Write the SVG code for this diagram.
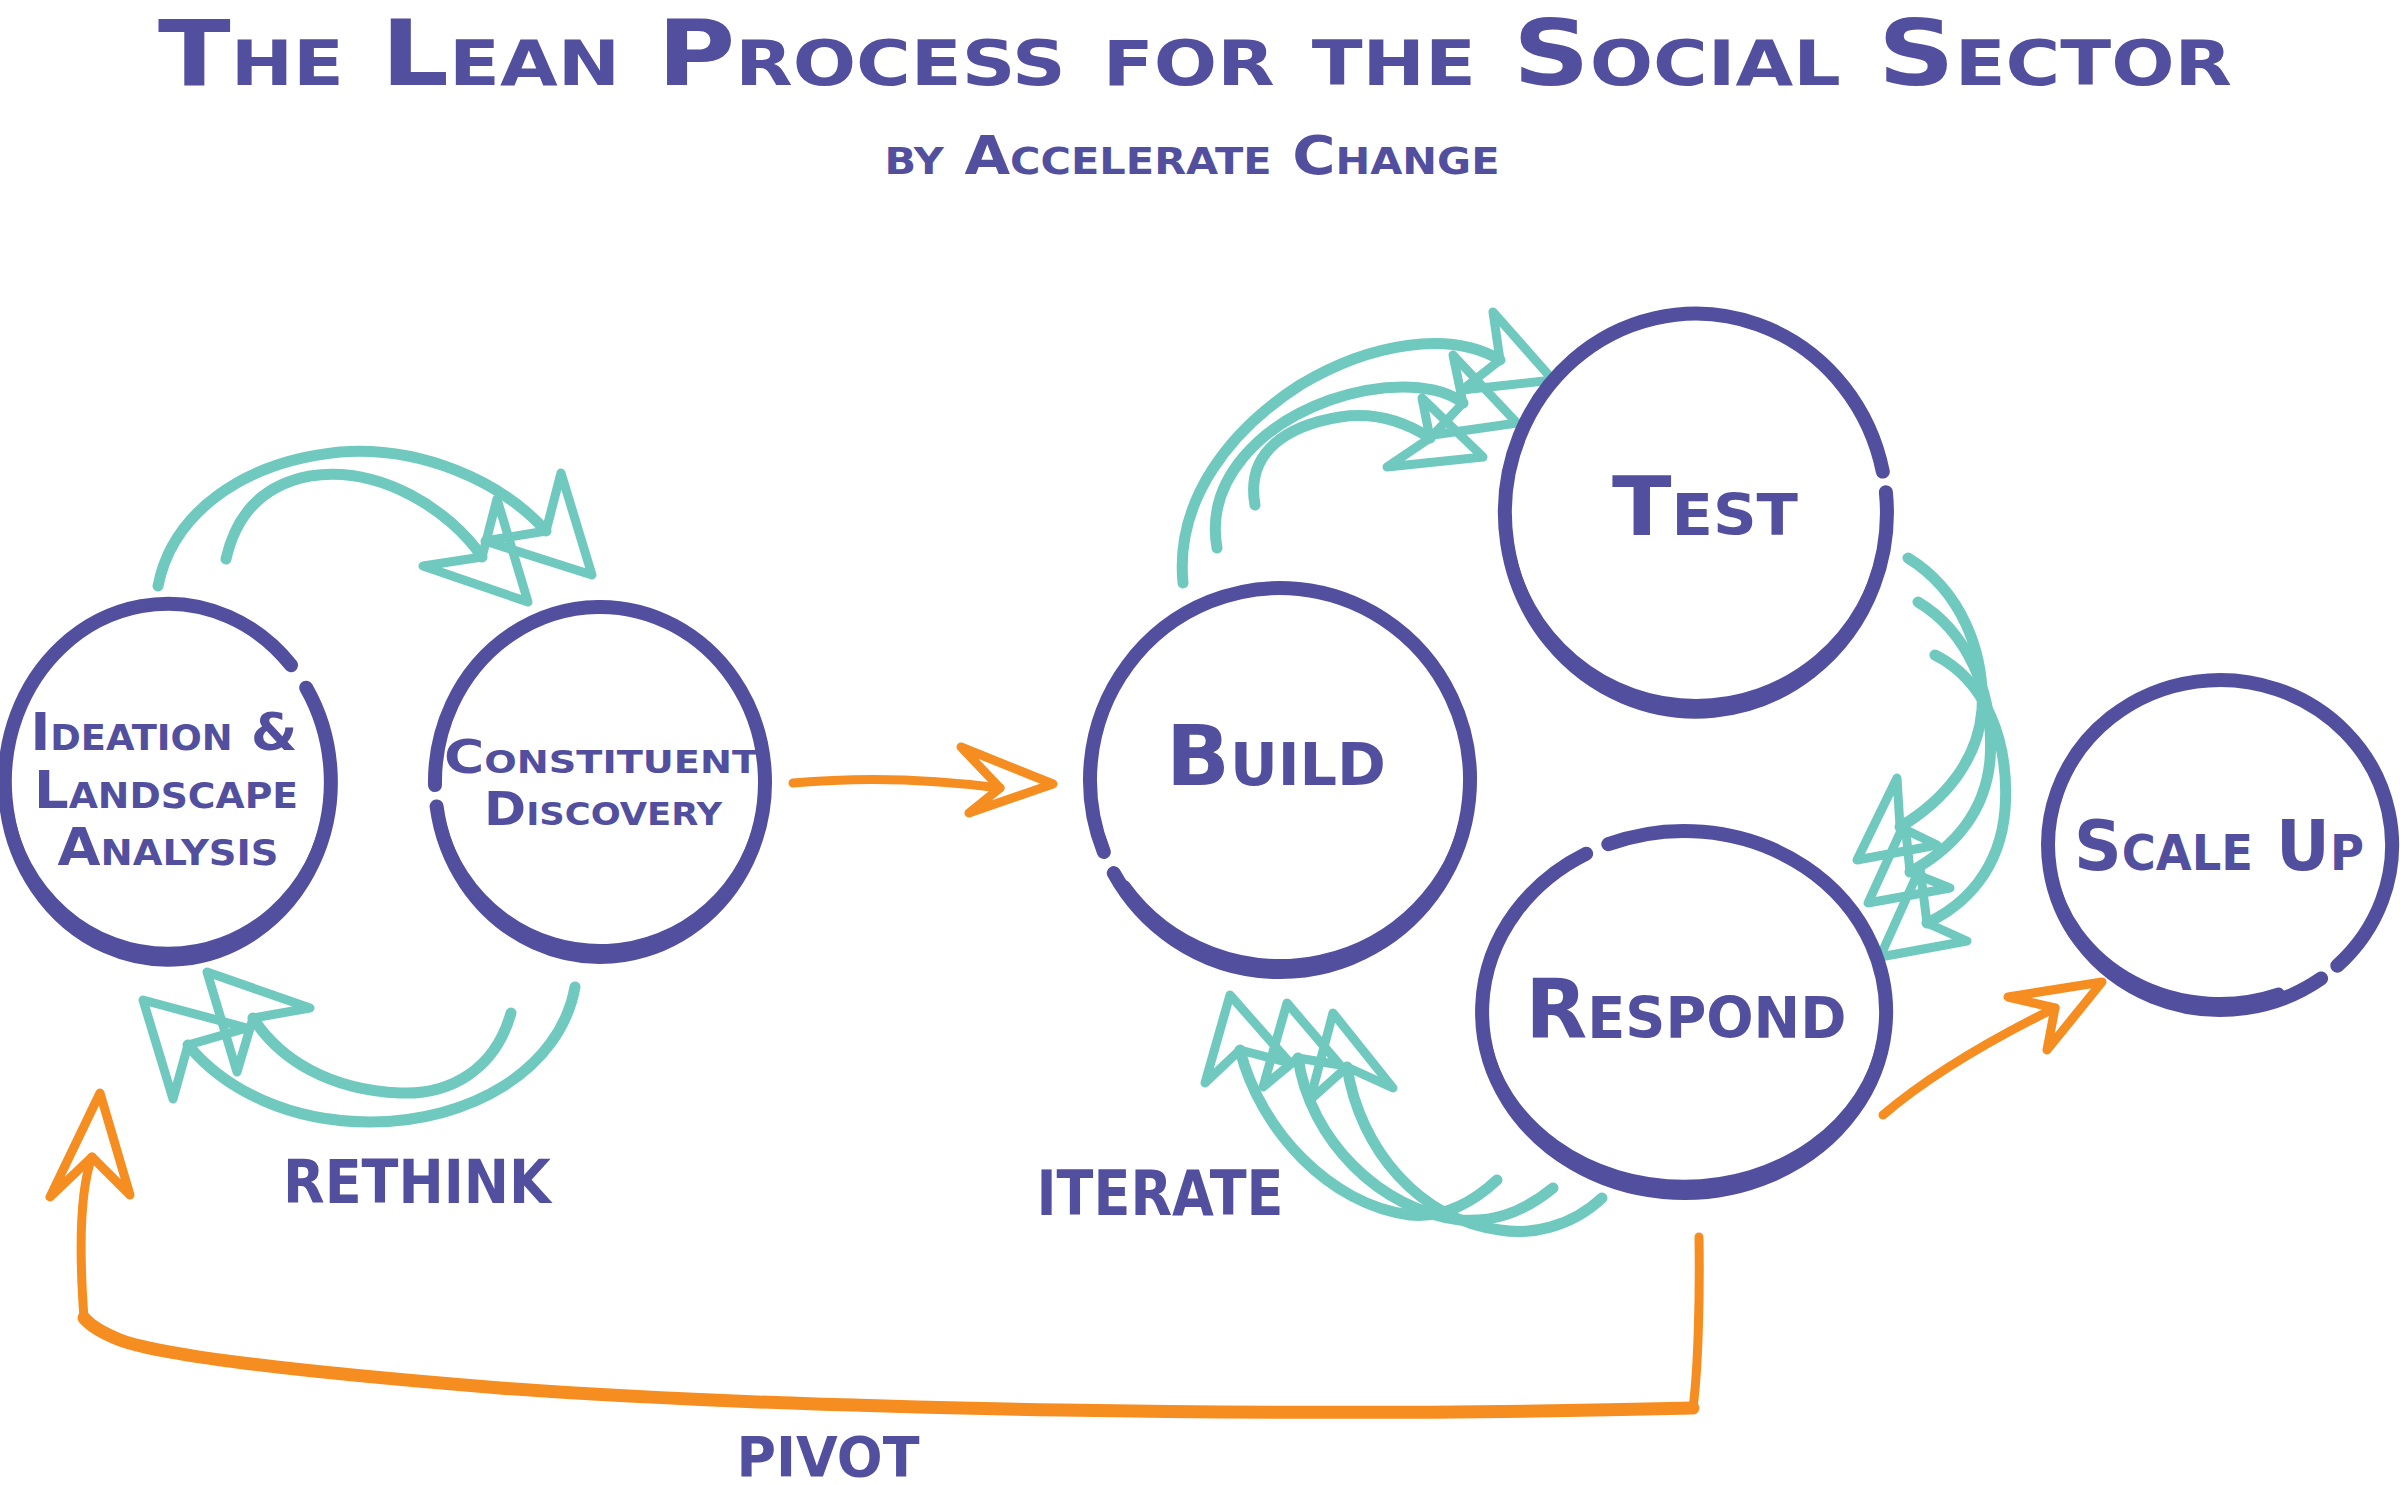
<svg xmlns="http://www.w3.org/2000/svg" width="2400" height="1485" viewBox="0 0 2400 1485">
<style>
  .ring { fill:none; stroke:#524f9f; stroke-width:14; stroke-linecap:round; }
  .heavy { fill:none; stroke:#524f9f; stroke-width:12; stroke-linecap:round; }
  .teal { fill:none; stroke:#6fc9be; stroke-width:11; stroke-linecap:round; stroke-linejoin:round; }
  .tealhead { fill:none; stroke:#6fc9be; stroke-width:9; stroke-linecap:round; stroke-linejoin:round; }
  .orange { fill:none; stroke:#f58d20; stroke-width:9; stroke-linecap:round; stroke-linejoin:round; }
  .orangethick { fill:none; stroke:#f58d20; stroke-width:13; stroke-linecap:round; stroke-linejoin:round; }
  .txt { font-family:"DejaVu Sans","Liberation Sans",sans-serif; font-weight:bold; fill:#524f9f; text-anchor:middle; }
  .sc { font-variant:small-caps; }
</style>
<rect width="2400" height="1485" fill="#ffffff"/>

<g id="title">
  <text class="txt sc" x="1195" y="85" font-size="90" textLength="2074" lengthAdjust="spacingAndGlyphs">The Lean Process for the Social Sector</text>
  <text class="txt sc" x="1192" y="174" font-size="54" textLength="615" lengthAdjust="spacingAndGlyphs">by Accelerate Change</text>
</g>

<g id="connectors">
  <!-- Rethink: Ideation -> Constituent (top) -->
  <path class="teal" d="M158,586 C172,515 240,462 340,452 C420,446 500,480 546,531"/>
  <polygon class="tealhead" points="546,531 561,473 592,575 485,541"/>
  <path class="teal" d="M226,559 C236,515 262,485 310,476 C380,465 450,510 482,557"/>
  <polygon class="tealhead" points="482,557 497,499 528,602 423,566"/>
  <!-- Rethink: Constituent -> Ideation (bottom) -->
  <path class="teal" d="M575,987 C560,1070 470,1122 370,1122 C290,1122 225,1090 188,1045"/>
  <polygon class="tealhead" points="188,1045 173,1099 143,1000 247,1028"/>
  <path class="teal" d="M511,1013 C495,1070 450,1095 400,1093 C330,1090 280,1060 253,1018"/>
  <polygon class="tealhead" points="253,1018 237,1072 207,972 310,1008"/>

  <!-- Constituent -> Build -->
  <path class="orange" d="M793,783 C870,776 940,780 1000,788"/>
  <polygon class="orange" points="1000,788 961,747 1053,784 969,813"/>

  <!-- Build -> Test -->
  <path class="teal" d="M1183,583 C1175,500 1230,430 1300,385 C1370,343 1450,330 1500,360"/>
  <polygon class="tealhead" points="1500,360 1493,312 1553,380 1462,390"/>
  <path class="teal" d="M1217,548 C1205,480 1260,425 1330,400 C1390,380 1440,385 1463,403"/>
  <polygon class="tealhead" points="1463,403 1453,355 1517,423 1433,435"/>
  <path class="teal" d="M1255,505 C1245,450 1290,425 1340,417 C1380,411 1410,425 1430,438"/>
  <polygon class="tealhead" points="1430,438 1422,398 1483,457 1387,467"/>

  <!-- Test -> Respond -->
  <path class="teal" d="M1908,558 C1960,590 1985,650 1982,710 C1978,760 1945,800 1900,827"/>
  <polygon class="tealhead" points="1900,827 1897,778 1857,860 1937,845"/>
  <path class="teal" d="M1918,602 C1965,630 1995,690 1990,760 C1985,815 1950,850 1910,872"/>
  <polygon class="tealhead" points="1910,872 1905,822 1868,903 1950,888"/>
  <path class="teal" d="M1935,655 C1985,680 2010,740 2005,810 C2000,870 1965,905 1927,923"/>
  <polygon class="tealhead" points="1927,923 1920,868 1880,957 1967,941"/>

  <!-- Respond -> Build -->
  <path class="teal" d="M1497,1180 C1470,1205 1440,1218 1410,1215 C1330,1205 1260,1130 1240,1050"/>
  <polygon class="tealhead" points="1240,1050 1205,1083 1230,995 1290,1063"/>
  <path class="teal" d="M1553,1188 C1520,1215 1490,1222 1460,1220 C1380,1210 1310,1140 1298,1058"/>
  <polygon class="tealhead" points="1298,1058 1263,1087 1287,1003 1340,1065"/>
  <path class="teal" d="M1602,1198 C1570,1228 1530,1235 1500,1230 C1420,1220 1360,1150 1347,1067"/>
  <polygon class="tealhead" points="1347,1067 1310,1100 1333,1013 1393,1088"/>

  <!-- Respond -> Scale Up -->
  <path class="orange" d="M1883,1115 C1930,1075 1990,1040 2055,1008"/>
  <polygon class="orange" points="2055,1008 2008,997 2102,982 2047,1050"/>

  <!-- Pivot -->
  <path class="orange" d="M1699,1237 C1700,1300 1698,1370 1693,1408"/>
  <path class="orangethick" d="M1693,1408 C1300,1418 800,1410 500,1388 C300,1372 160,1355 120,1340 C100,1332 90,1325 84,1318"/>
  <path class="orange" d="M84,1318 C79,1250 80,1190 92,1157"/>
  <polygon class="orange" points="92,1157 50,1197 100,1093 130,1195"/>

  <!-- connector labels -->
  <text class="txt" x="417" y="1203" font-size="60" textLength="268" lengthAdjust="spacingAndGlyphs">RETHINK</text>
  <text class="txt" x="1160" y="1215" font-size="62" textLength="247" lengthAdjust="spacingAndGlyphs">ITERATE</text>
  <text class="txt" x="828" y="1476" font-size="56" textLength="183" lengthAdjust="spacingAndGlyphs">PIVOT</text>
</g>

<g id="node-ideation">
  <path class="ring" d="M306.2,687.7 A163,178 0 1 1 291.0,665.2"/>
  <path class="heavy" d="M328.5,811.7 A163,171 0 0 1 7.5,811.7"/>
  <text class="txt sc" x="164" y="750" font-size="52" textLength="267" lengthAdjust="spacingAndGlyphs">Ideation &amp;</text>
  <text class="txt sc" x="166" y="808" font-size="52" textLength="264" lengthAdjust="spacingAndGlyphs">Landscape</text>
  <text class="txt sc" x="168" y="865" font-size="52" textLength="221" lengthAdjust="spacingAndGlyphs">Analysis</text>
</g>

<g id="node-constituent">
  <path class="ring" d="M435.0,785.1 A165,175 0 1 1 436.6,806.4"/>
  <path class="heavy" d="M762.5,811.2 A165,168 0 0 1 440.6,825.5"/>
  <text class="txt sc" x="601" y="773" font-size="46" textLength="314" lengthAdjust="spacingAndGlyphs">Constituent</text>
  <text class="txt sc" x="603" y="825" font-size="46" textLength="238" lengthAdjust="spacingAndGlyphs">Discovery</text>
</g>

<g id="node-build">
  <path class="ring" d="M1103.8,851.9 A190,192 0 1 1 1113.8,873.1"/>
  <path class="heavy" d="M1467.1,812.1 A190,185 0 0 1 1124.4,886.1"/>
  <text class="txt sc" x="1276" y="785" font-size="84" textLength="220" lengthAdjust="spacingAndGlyphs">Build</text>
</g>

<g id="node-test">
  <path class="ring" d="M1885.9,492.2 A191,199 0 1 1 1882.8,471.6"/>
  <path class="heavy" d="M1884.1,546.3 A191,192 0 0 1 1507.9,546.3"/>
  <text class="txt sc" x="1705" y="535" font-size="82" textLength="186" lengthAdjust="spacingAndGlyphs">Test</text>
</g>

<g id="node-respond">
  <path class="ring" d="M1608.3,844.2 A202,181 0 1 1 1586.1,853.7"/>
  <path class="heavy" d="M1882.9,1042.2 A202,174 0 0 1 1485.1,1042.2"/>
  <text class="txt sc" x="1686" y="1038" font-size="82" textLength="321" lengthAdjust="spacingAndGlyphs">Respond</text>
</g>

<g id="node-scaleup">
  <path class="ring" d="M2321.1,978.5 A172,165 0 1 1 2337.3,965.7"/>
  <path class="heavy" d="M2278.8,993.5 A172,158 0 0 1 2050.6,872.4"/>
  <text class="txt sc" x="2219" y="870" font-size="70" textLength="290" lengthAdjust="spacingAndGlyphs">Scale Up</text>
</g>
</svg>
